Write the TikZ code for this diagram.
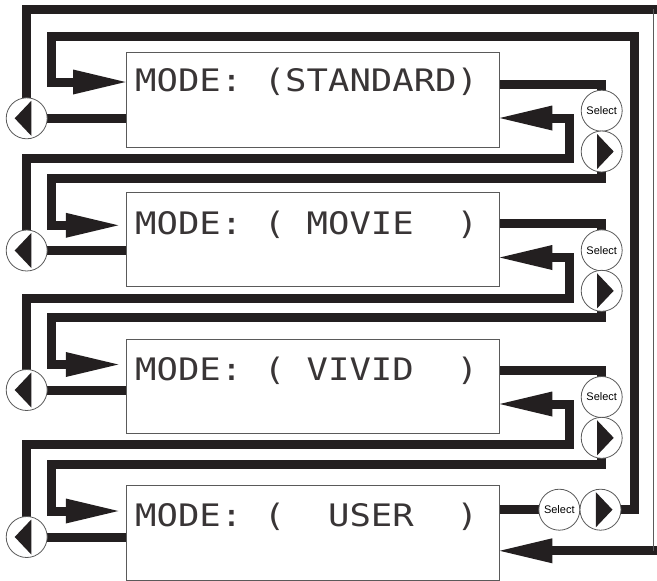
\documentclass[tikz,border=0pt]{standalone}
\usepackage{fontspec}
\usepackage{graphicx}
\setmainfont{Liberation Sans}
\newfontfamily\lcdfont{DejaVu Sans Mono}
\usetikzlibrary{arrows.meta}
\definecolor{ink}{HTML}{231F20}
\definecolor{edge}{HTML}{5A5A5A}
\pgfdeclarelayer{bg}
\pgfsetlayers{bg,main}
\begin{document}
\begin{tikzpicture}[x=1pt,y=-1pt,
  wire/.style={draw=ink, line width=9pt},
  tip/.style={-{Triangle[length=52.5pt,width=25pt,line width=0pt]}},
  screen/.style={draw=edge, line width=0.9pt, minimum width=373.3pt, inner sep=0pt},
  lcdtext/.style={anchor=base west, inner sep=0pt, text=ink!90,
    font=\lcdfont\fontsize{35.6}{40}\selectfont\frenchspacing},
  btn/.style={circle, draw=edge, line width=0.8pt, fill=white, minimum size=41pt, inner sep=0pt},
  selbtn/.style={btn, font=\fontsize{11}{12}\selectfont},
  prevbtn/.style={btn, path picture={\fill[ink] ([shift={(4.6pt,17.5pt)}]path picture bounding box.center) -- ++(-16.6pt,-17.5pt) -- ++(16.6pt,-17.5pt) -- cycle;}},
  nextbtn/.style={btn, path picture={\fill[ink] ([shift={(-4.6pt,17.5pt)}]path picture bounding box.center) -- ++(16.6pt,-17.5pt) -- ++(-16.6pt,-17.5pt) -- cycle;}}
]
\useasboundingbox (0,0) rectangle (657,581);

% screens
\node[screen, minimum height=94.3pt] (b1) at (312.65,99.85) {};
\node[screen, minimum height=94pt] (b2) at (312.65,239.7) {};
\node[screen, minimum height=94pt] (b3) at (312.65,386.3) {};
\node[screen, minimum height=94.3pt] (b4) at (312.65,532.85) {};

\node[lcdtext] (t1) at (135,91.7) {\scalebox{1}[0.87]{MODE:~(STANDARD)}};
\node[lcdtext] (t2) at (135,234.3) {\scalebox{1}[0.87]{MODE:~(~MOVIE~~)}};
\node[lcdtext] (t3) at (135,380) {\scalebox{1}[0.87]{MODE:~(~VIVID~~)}};
\node[lcdtext] (t4) at (135,526) {\scalebox{1}[0.87]{MODE:~(~~USER~~)}};

% buttons
\node[prevbtn] (c1) at (26.7,118.3) {};
\node[prevbtn] (c2) at (26.7,250.5) {};
\node[prevbtn] (c3) at (26.7,390) {};
\node[prevbtn] (c4) at (26.7,537) {};

\node[selbtn] (s1) at (601.7,110.7) {Select};
\node[nextbtn] (r1) at (601.7,151.5) {};
\node[selbtn] (s2) at (601.7,250.3) {Select};
\node[nextbtn] (r2) at (601.7,290.8) {};
\node[selbtn] (s3) at (601.7,397) {Select};
\node[nextbtn] (r3) at (601.7,437.8) {};
\node[selbtn] (s4) at (559.3,509.7) {Select};
\node[nextbtn] (r4) at (600.5,509.7) {};

% bend points
\coordinate (tr) at (657,9.2);
\coordinate (br) at (657,550.8);
\coordinate (et) at (653,9.2);
\coordinate (eb) at (653,550.8);
\coordinate (k1) at (634.7,36.2);
\coordinate (a1) at (51,82);
\coordinate (d1) at (51,178);
\coordinate (a2) at (118.3,225.3);
\coordinate (d2) at (51,317.3);
\coordinate (a3) at (118.3,364.5);
\coordinate (d3) at (51,464.5);
\coordinate (a4) at (118.3,511);
\coordinate (e1) at (569.5,158.7);
\coordinate (q1) at (0,118);
\coordinate (e2) at (569.5,298);
\coordinate (q2) at (0,257.5);
\coordinate (e3) at (569.5,444.7);
\coordinate (q3) at (0,404);
\coordinate (p1) at (0,84);
\coordinate (p2) at (0,223.8);
\coordinate (p3) at (0,370.5);

\begin{pgfonlayer}{bg}
% previous buttons to screens
\draw[wire] (c1.center) -- (b1.west |- c1);
\draw[wire] (c2.center) -- (b2.west |- c2);
\draw[wire] (c3.center) -- (b3.west |- c3);
\draw[wire] (c4.center) -- (b4.west |- c4);
% wrap: STANDARD <-> USER
\draw[wire] (c1.center) |- (tr);
\draw[wire,tip] (br) -- (b4.east |- br);
\draw[wire,tip] (r4.center) -| (k1) -| (a1) -- (b1.west |- a1);
% next
\draw[wire,tip] (r1.center) |- (d1) |- (a2);
\draw[wire,tip] (r2.center) |- (d2) |- (a3);
\draw[wire,tip] (r3.center) |- (d3) |- (a4);
% previous
\draw[wire,tip] (c2.center) |- (e1) |- (b1.east |- q1);
\draw[wire,tip] (c3.center) |- (e2) |- (b2.east |- q2);
\draw[wire,tip] (c4.center) |- (e3) |- (b3.east |- q3);
% select
\draw[wire] (b1.east |- p1) -| (s1.center);
\draw[wire] (b2.east |- p2) -| (s2.center);
\draw[wire] (b3.east |- p3) -| (s3.center);
\draw[wire] (b4.east |- s4) -- (s4.center);
\end{pgfonlayer}
\draw[edge, line width=0.8pt] (et) -- (eb);
\end{tikzpicture}
\end{document}
